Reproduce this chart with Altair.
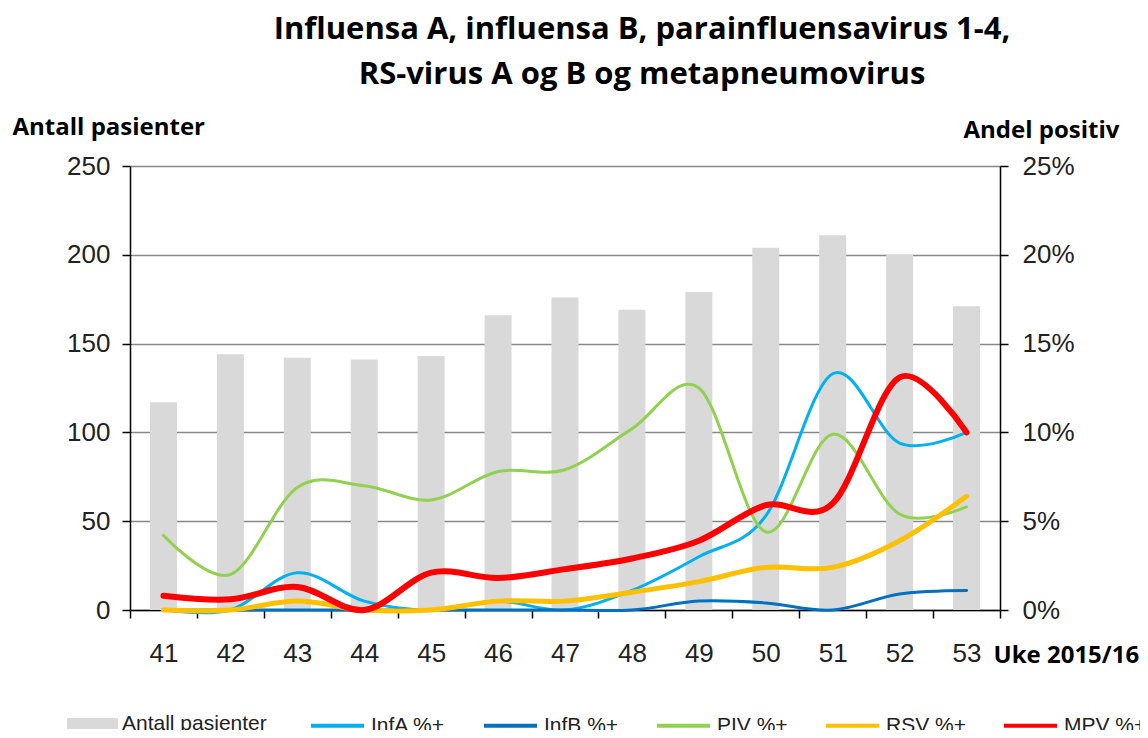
import altair as alt
import pandas as pd

weeks = ["41", "42", "43", "44", "45", "46", "47", "48", "49", "50", "51", "52", "53"]
patients = [117, 144, 142, 141, 143, 166, 176, 169, 179, 204, 211, 200, 171]
infa = [0, 0, 2.1, 0.5, 0, 0.5, 0, 1.1, 3.0, 5.3, 13.3, 9.4, 10.0]
infb = [0, 0, 0, 0, 0, 0, 0, 0, 0.5, 0.4, 0, 0.9, 1.1]
piv = [4.2, 2.0, 6.9, 7.0, 6.2, 7.8, 7.9, 10.2, 12.5, 4.4, 9.9, 5.4, 5.8]
rsv = [0, 0, 0.5, 0, 0, 0.5, 0.5, 1.0, 1.6, 2.4, 2.4, 3.9, 6.4]
mpv = [0.8, 0.6, 1.3, 0, 2.1, 1.8, 2.3, 2.9, 3.9, 5.9, 6.0, 13.1, 10.0]

series_names = ["InfA %+", "InfB %+", "PIV %+", "RSV %+", "MPV %+"]
series_colors = ["#00B0F0", "#0070C0", "#92D050", "#FFC000", "#FF0000"]
series_widths = [3, 3, 3, 5, 6]
bar_label = "Antall pasienter"

bar_df = pd.DataFrame({"uke": weeks, "antall": patients, "lbl": bar_label})
rows = []
for name, vals in zip(series_names, [infa, infb, piv, rsv, mpv]):
    for w, v in zip(weeks, vals):
        rows.append({"uke": w, "serie": name, "andel": v})
line_df = pd.DataFrame(rows)

LABEL_FONT = "Liberation Sans"
BOLD_FONT = "Open Sans"
TXT = "#222222"

x_axis = alt.Axis(
    title="Uke 2015/16", titleFont=BOLD_FONT, titleFontSize=24, titleFontWeight="bold",
    titleColor="#000000", titleAlign="left", titleBaseline="alphabetic",
    titleX=863, titleY=52, titleAngle=0,
    labelFont=LABEL_FONT, labelFontSize=26, labelColor=TXT, labelAngle=0, labelPadding=22,
    tickBand="extent", tickSize=8, tickColor="#000000", tickWidth=1.5,
    domainColor="#000000", domainWidth=1.5, grid=False,
)
x_scale = alt.Scale(domain=weeks, paddingInner=0, paddingOuter=0)

bars = alt.Chart(bar_df).mark_bar(width=27).encode(
    x=alt.X("uke:O", scale=x_scale, axis=x_axis),
    y=alt.Y("antall:Q", scale=alt.Scale(domain=[0, 250]),
            axis=alt.Axis(
                orient="left", values=[0, 50, 100, 150, 200, 250],
                title="Antall pasienter", titleFont=BOLD_FONT, titleFontSize=24,
                titleFontWeight="bold", titleColor="#000000", titleAngle=0,
                titleAlign="left", titleBaseline="alphabetic", titleX=-118, titleY=-32,
                labelFont=LABEL_FONT, labelFontSize=26, labelColor=TXT, labelPadding=12,
                tickSize=8, tickColor="#000000", tickWidth=1.5,
                domainColor="#000000", domainWidth=1.5,
                grid=True, gridColor="#878787", gridWidth=1.5,
            )),
    fill=alt.Fill("lbl:N", scale=alt.Scale(domain=[bar_label], range=["#D9D9D9"]),
                  legend=alt.Legend(
                      orient="none", legendX=-63, legendY=532, title=None,
                      symbolType="M-1,-0.22H1V0.22H-1Z", symbolSize=2601,
                      symbolStrokeWidth=0, labelFont=LABEL_FONT, labelFontSize=21,
                      labelColor=TXT, labelOffset=4, padding=0,
                  )),
)

line_y = alt.Y("andel:Q", scale=alt.Scale(domain=[0, 25]),
               axis=alt.Axis(
                   orient="right", values=[0, 5, 10, 15, 20, 25],
                   labelExpr="datum.value + '%'",
                   title="Andel positiv", titleFont=BOLD_FONT, titleFontSize=24,
                   titleFontWeight="bold", titleColor="#000000", titleAngle=0,
                   titleAlign="left", titleBaseline="alphabetic", titleX=-37, titleY=-29,
                   labelFont=LABEL_FONT, labelFontSize=26, labelColor=TXT, labelPadding=14,
                   tickSize=8, tickColor="#000000", tickWidth=1.5,
                   domainColor="#000000", domainWidth=1.5, grid=False,
               ))
stroke_enc = alt.Stroke("serie:N", scale=alt.Scale(domain=series_names, range=series_colors),
                        legend=alt.Legend(
                            orient="none", legendX=179, legendY=531, title=None,
                            direction="horizontal", columns=5, symbolType="stroke",
                            symbolSize=2809, symbolStrokeWidth=4, labelFont=LABEL_FONT,
                            labelFontSize=21, labelColor=TXT, labelOffset=5,
                            columnPadding=30, padding=0,
                        ))

line_layers = []
for name, w in zip(series_names, series_widths):
    line_layers.append(
        alt.Chart(line_df).transform_filter(alt.datum.serie == name)
        .mark_line(interpolate="cardinal", strokeWidth=w, strokeCap="round")
        .encode(
            x=alt.X("uke:O", scale=x_scale, axis=x_axis, bandPosition=0.5),
            y=line_y,
            stroke=stroke_enc,
        )
    )
lines = alt.layer(*line_layers)

chart = alt.layer(bars, lines).resolve_scale(y="independent").properties(
    width=870, height=444,
    autosize=alt.AutoSizeParams(type="none"),
    padding={"left": 122, "top": 158, "right": 140, "bottom": 120},
    title=alt.Title(
        text=["Influensa A, influensa B, parainfluensavirus 1-4,", "RS-virus A og B og metapneumovirus"],
        font=BOLD_FONT, fontSize=31, fontWeight="bold", color="#000000",
        anchor="middle", frame="group", dx=77, offset=0, lineHeight=45,
        baseline="alphabetic",
    ),
).configure_view(stroke=None).configure(background="#ffffff")

chart.save("out.html", embed_options={"renderer": "svg", "actions": False})
